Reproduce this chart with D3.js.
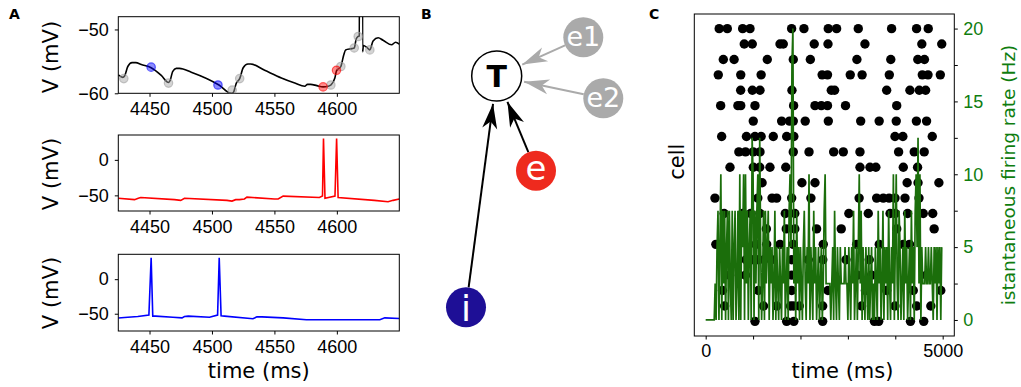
<!DOCTYPE html>
<html>
<head>
<meta charset="utf-8">
<script src="https://cdn.jsdelivr.net/npm/d3@7"></script>
<style>
body { margin: 0; background: #fff; }
svg { font-family: "DejaVu Sans", sans-serif; }
</style>
</head>
<body>
<script>

// ---- panel A : membrane potentials (time in ms, V in mV)
const targetTime = [4425, 4428.6, 4430, 4432.6, 4436, 4439, 4443.4, 4451.3, 4459.4, 4465.2, 4466.5, 4468.5, 4471.4, 4474,
  4483.4, 4505.6, 4515.5, 4517, 4519.5, 4522.2, 4525, 4528.8, 4531, 4542.2, 4555.6, 4566.3, 4574.3, 4576.5, 4579, 4584,
  4589, 4593, 4595.2, 4598.4, 4599.7, 4603.2, 4605.5, 4607, 4612, 4613.9, 4615.5, 4617.1, 4618.0, 4618.4, 4620.3, 4620.6,
  4621.3, 4624, 4626.4, 4629, 4633.1, 4637, 4643.8, 4647, 4650];
const targetV = [-57.1, -57.5, -57.3, -55.8, -55.2, -55.2, -55.5, -56.0, -57.2, -58.3, -58.0, -56.6, -56.1, -56.1,
  -56.7, -58.7, -60.0, -59.9, -58.4, -57.7, -56.0, -55.4, -55.4, -56.4, -57.6, -58.4, -58.9, -58.6, -58.6, -58.8,
  -59.0, -58.9, -58.7, -57.6, -56.5, -55.8, -54.0, -53.2, -53.0, -52.9, -51.5, -51.1, -51.0, 30, 30, -53.5,
  -52.5, -52.8, -53.2, -51.8, -51.3, -51.7, -52.4, -52.0, -52.3];

const grayInTime = [4429.4, 4465.2, 4516.2, 4522.2, 4595.2, 4603.2, 4613.9, 4617.1, 4626.4];
const grayInV = [-57.7, -58.4, -59.5, -57.7, -58.7, -55.8, -52.9, -51.1, -53.2];
const blueInTime = [4451.3, 4504.8];
const blueInV = [-55.9, -58.7];
const redInTime = [4589, 4599.7];
const redInV = [-59.0, -56.4];

const excTime = [4425, 4438, 4441, 4443, 4470, 4475, 4478, 4512, 4516, 4519, 4522, 4526, 4528, 4550, 4553, 4557,
  4586, 4588.5, 4589.3, 4590.5, 4598.5, 4599.8, 4601, 4630, 4641, 4645, 4650];
const excV = [-54, -56, -54, -53, -56, -57, -54, -57, -58, -56, -56, -55, -52.5, -55, -55, -51,
  -53, -51, 30, -54, -51, 30, -53, -57, -59, -57, -55];

const inhTime = [4425, 4430, 4440.6, 4449.5, 4451.3, 4452.6, 4455, 4468.7, 4476, 4478, 4481, 4498, 4504.5, 4505.8,
  4507.3, 4510, 4532.8, 4536, 4540, 4557, 4575.6, 4634.4, 4638.4, 4650];
const inhV = [-56.3, -55.5, -54, -52, 31, -53.5, -53.5, -55, -56, -54, -53.5, -55, -52, 31,
  -53, -53.5, -57.3, -54.5, -54.5, -56, -58.7, -58.7, -56, -57];

const timeTicksA = [4450, 4500, 4550, 4600];

// ---- panel B : network
const nodeNames = ['T', 'e1', 'e2', 'e', 'i'];
const edges = [['e1', 'T'], ['e2', 'T'], ['e', 'T'], ['i', 'T']];

// ---- panel C : raster (spike times per cell, cell 0 at the bottom) and rate
const rasterSpikes = [
  [1040, 1708, 1860, 2468, 3560, 3650, 4320, 4600],
  [400, 1220, 1500, 1790, 1850, 1975, 2468, 3289, 3993, 4450, 4750],
  [355, 1110, 1814, 2580, 3370, 3818, 4380, 4960],
  [505, 840, 1814, 3200, 3500, 4660],
  [850, 1004, 1110, 1230, 1392, 1814, 2165, 2470, 2960, 3451],
  [215, 1060, 1287, 1568, 1848, 2481, 3185, 3662, 4169, 4300],
  [1280, 1700, 1880, 2340, 2860, 4030, 4820],
  [390, 780, 950, 1146, 1680, 1880, 3020, 3430, 3890, 4000, 4260, 4590, 4790],
  [196, 1100, 1400, 1497, 1814, 2220, 3237, 3607, 3747, 3870, 3994, 4205, 4500],
  [1190, 2030, 2306, 4250, 4480, 4920],
  [513, 1005, 1140, 1356, 1690, 3255, 3466, 3590, 4169, 4470],
  [700, 840, 1004, 1146, 1848, 2180, 2700, 2903, 3255, 4070, 4400, 4610],
  [337, 860, 1040, 1170, 1426, 1709, 1860, 3994, 4160, 4780],
  [1004, 1602, 1770, 1848, 2100, 2587, 3270, 3660, 4020, 4445, 4660],
  [316, 680, 740, 1040, 1855, 2306, 2440, 2570, 2950, 4030],
  [738, 985, 1146, 1820, 2650, 2720, 3818, 4309, 4506, 4640],
  [266, 740, 1170, 2457, 2570, 3050, 3300, 3874, 4570, 4690, 4950],
  [372, 600, 1300, 1848, 2208, 3190, 3905, 4475, 4615],
  [814, 983, 1568, 1637, 2290, 2580, 3360, 4560, 4980],
  [285, 456, 780, 935, 1813, 2073, 2586, 2762, 3219, 3922, 4449, 4695]
];

const rateBinMs = 20;
const rateHz = [
  0, 0, 0, 0, 0, 0, 0, 0, 0, 0,
  2.5, 0, 5, 7.5, 0, 5, 10, 0, 7.5, 2.5,
  7.5, 0, 5, 7.5, 0, 7.5, 2.5, 0, 7.5, 0,
  5, 7.5, 0, 2.5, 7.5, 0, 10, 0, 7.5, 5,
  10, 0, 10, 2.5, 7.5, 0, 5, 7.5, 0, 12.5,
  10, 0, 7.5, 2.5, 7.5, 10, 0, 12.5, 5, 0,
  2.5, 7.5, 0, 7.5, 2.5, 5, 7.5, 0, 5, 2.5,
  5, 0, 2.5, 7.5, 0, 5, 2.5, 0, 5, 2.5,
  0, 5, 2.5, 7.5, 0, 2.5, 5, 0, 7.5, 10,
  5, 17.5, 20, 2.5, 5, 0, 7.5, 2.5, 5, 0,
  5, 2.5, 0, 5, 7.5, 2.5, 0, 5, 2.5, 10,
  0, 5, 2.5, 0, 7.5, 2.5, 5, 0, 2.5, 5,
  0, 2.5, 5, 0, 2.5, 7.5, 10, 2.5, 2.5, 2.5,
  2.5, 2.5, 0, 2.5, 5, 0, 7.5, 2.5, 0, 5,
  2.5, 0, 5, 2.5, 2.5, 2.5, 2.5, 5, 2.5, 2.5,
  0, 5, 2.5, 0, 5, 2.5, 7.5, 0, 2.5, 5,
  0, 5, 10, 2.5, 7.5, 0, 5, 2.5, 0, 5,
  2.5, 0, 5, 0, 2.5, 5, 0, 2.5, 0, 5,
  2.5, 0, 7.5, 2.5, 5, 0, 2.5, 7.5, 0, 5,
  2.5, 5, 0, 7.5, 2.5, 0, 5, 2.5, 10, 0,
  5, 10, 2.5, 0, 7.5, 5, 0, 2.5, 5, 0,
  7.5, 2.5, 5, 0, 2.5, 5, 0, 7.5, 2.5, 5,
  0, 7.5, 10, 5, 12.5, 2.5, 10, 0, 5, 2.5,
  2.5, 2.5, 5, 2.5, 2.5, 5, 2.5, 2.5, 5, 2.5,
  0, 5, 2.5, 5, 0, 5, 2.5, 5, 0, 5
];
const timeTicksC = [0, 1000, 2000, 3000, 4000, 5000];
const rateTicks = [0, 2.5, 5, 7.5, 10, 12.5, 15, 17.5, 20];


const width = 1021, height = 387;
const tickFont = 18, labelFont = 21;
const green = '#0f7d0f';

const svg = d3.select('body').append('svg')
  .attr('width', width)
  .attr('height', height);

function finishAxis(g, color) {
  g.select('.domain').remove();
  g.selectAll('.tick line').attr('stroke', '#000').attr('stroke-width', 1);
  g.selectAll('.tick text').style('font-size', tickFont + 'px').attr('fill', color || '#000');
}

function panelLetter(x, y, s) {
  svg.append('text').attr('x', x).attr('y', y)
    .style('font-size', '14px').style('font-weight', 'bold').text(s);
}

// ================= A =================
const left = 118.3, right = 399.3;
const xA = d3.scaleLinear().domain([4425, 4650]).range([left, right]);

const panelsA = [
  {id: 'a1', top: 16.7, bottom: 93.3, dom: [-60, -48], ticks: [-60, -50], t: targetTime, v: targetV, color: '#000', curve: d3.curveMonotoneX, labelY: 57},
  {id: 'a2', top: 135, bottom: 211, dom: [-72, 35], ticks: [-50, 0], t: excTime, v: excV, color: '#ff0000', curve: d3.curveLinear, labelY: 174},
  {id: 'a3', top: 254.3, bottom: 331, dom: [-75, 36], ticks: [-50, 0], t: inhTime, v: inhV, color: '#0000ff', curve: d3.curveLinear, labelY: 293}
];

panelsA.forEach(p => {
  const y = d3.scaleLinear().domain(p.dom).range([p.bottom, p.top]);
  p.y = y;

  svg.append('clipPath').attr('id', 'clip-' + p.id)
    .append('rect').attr('x', left).attr('y', p.top)
    .attr('width', right - left).attr('height', p.bottom - p.top);

  const line = d3.line().curve(p.curve).x(d => xA(d[0])).y(d => y(d[1]));
  svg.append('path')
    .datum(d3.zip(p.t, p.v))
    .attr('clip-path', 'url(#clip-' + p.id + ')')
    .attr('d', line)
    .attr('fill', 'none')
    .attr('stroke', p.color)
    .attr('stroke-width', 1.6);

  const xAxis = svg.append('g')
    .attr('transform', 'translate(0,' + p.bottom + ')')
    .call(d3.axisBottom(xA).tickValues(timeTicksA).tickSize(3.5).tickPadding(5.5).tickFormat(d3.format('d')));
  finishAxis(xAxis);

  const yAxis = svg.append('g')
    .attr('transform', 'translate(' + left + ',0)')
    .call(d3.axisLeft(y).tickValues(p.ticks).tickSize(3.5).tickPadding(6));
  finishAxis(yAxis);

  svg.append('rect')
    .attr('x', left).attr('y', p.top)
    .attr('width', right - left).attr('height', p.bottom - p.top)
    .attr('fill', 'none').attr('stroke', '#000').attr('stroke-width', 1);

  svg.append('text')
    .attr('transform', 'translate(50,' + p.labelY + ') rotate(-90)')
    .attr('text-anchor', 'middle')
    .attr('dy', '0.36em')
    .style('font-size', labelFont + 'px')
    .text('V (mV)');
});

// input markers on the target trace
const yTop = panelsA[0].y;
function markers(times, volts, color) {
  svg.append('g').attr('clip-path', 'url(#clip-a1)')
    .selectAll('circle')
    .data(d3.zip(times, volts))
    .enter()
    .append('circle')
    .attr('cx', d => xA(d[0]))
    .attr('cy', d => yTop(d[1]))
    .attr('r', 4.2)
    .style('fill', color)
    .style('fill-opacity', 0.45)
    .style('stroke', color)
    .style('stroke-opacity', 0.6)
    .style('stroke-width', 1.2);
}
markers(grayInTime, grayInV, '#a0a0a0');
markers(blueInTime, blueInV, '#0000ff');
markers(redInTime, redInV, '#ff0000');

svg.append('text')
  .attr('x', (left + right) / 2).attr('y', 378)
  .attr('text-anchor', 'middle')
  .style('font-size', labelFont + 'px')
  .text('time (ms)');

panelLetter(9, 19, 'A');

// ================= B =================
const layoutB = {
  T:  {x: 496.7, y: 76,    r: 25, fill: '#fff',    stroke: '#000', text: '#000', size: 30, bold: true,  dy: 0.36},
  e1: {x: 583.3, y: 37.3,  r: 20, fill: '#aaaaaa', stroke: 'none', text: '#fff', size: 27, bold: false, dy: 0.34},
  e2: {x: 603.3, y: 98.3,  r: 20, fill: '#aaaaaa', stroke: 'none', text: '#fff', size: 27, bold: false, dy: 0.34},
  e:  {x: 536,   y: 170.7, r: 20, fill: '#ee2a1e', stroke: 'none', text: '#fff', size: 34, bold: false, dy: 0.28},
  i:  {x: 466,   y: 307.3, r: 20, fill: '#1e0f96', stroke: 'none', text: '#fff', size: 36, bold: false, dy: 0.37}
};

const defs = svg.append('defs');
['#000', '#aaaaaa'].forEach((c, k) => {
  defs.append('marker')
    .attr('id', 'head' + k)
    .attr('viewBox', '-28 -9 30 18')
    .attr('refX', 0).attr('refY', 0)
    .attr('markerUnits', 'userSpaceOnUse')
    .attr('markerWidth', 30).attr('markerHeight', 18)
    .attr('orient', 'auto')
    .append('path')
    .attr('d', 'M0,0 L-25,-7.5 L-18,0 L-25,7.5 Z')
    .attr('fill', c);
});

edges.forEach(([s, t]) => {
  const a = layoutB[s], b = layoutB[t];
  const dx = b.x - a.x, dy = b.y - a.y, len = Math.hypot(dx, dy);
  const ux = dx / len, uy = dy / len;
  const gray = s === 'e1' || s === 'e2';
  svg.append('line')
    .attr('x1', a.x + ux * a.r).attr('y1', a.y + uy * a.r)
    .attr('x2', b.x - ux * (b.r + 3)).attr('y2', b.y - uy * (b.r + 3))
    .attr('stroke', gray ? '#aaaaaa' : '#000')
    .attr('stroke-width', 2)
    .attr('marker-end', 'url(#head' + (gray ? 1 : 0) + ')');
});

const nodes = svg.selectAll('.node')
  .data(nodeNames)
  .enter()
  .append('g')
  .attr('class', 'node')
  .attr('transform', d => 'translate(' + layoutB[d].x + ',' + layoutB[d].y + ')');

nodes.append('circle')
  .attr('r', d => layoutB[d].r)
  .attr('fill', d => layoutB[d].fill)
  .attr('stroke', d => layoutB[d].stroke)
  .attr('stroke-width', 1.5);

nodes.append('text')
  .attr('text-anchor', 'middle')
  .attr('dy', d => layoutB[d].dy + 'em')
  .style('font-size', d => layoutB[d].size + 'px')
  .style('font-weight', d => layoutB[d].bold ? 'bold' : 'normal')
  .attr('fill', d => layoutB[d].text)
  .text(d => d);

panelLetter(421, 19, 'B');

// ================= C =================
const cLeft = 694.3, cRight = 954.3, cTop = 14, cBottom = 336;
const xC = d3.scaleLinear().domain([-240, 5245]).range([cLeft, cRight]);
const yCell = d3.scaleLinear().domain([-0.95, 19.95]).range([cBottom, cTop]);
const yRate = d3.scaleLinear().domain([-1.1, 21]).range([cBottom, cTop]);

const spikes = [];
rasterSpikes.forEach((times, cell) => times.forEach(t => spikes.push({cell: cell, t: t})));

svg.append('g').selectAll('circle')
  .data(spikes)
  .enter()
  .append('circle')
  .attr('cx', d => xC(d.t))
  .attr('cy', d => yCell(d.cell))
  .attr('r', 4.7)
  .attr('fill', '#000');

const rateLine = d3.line()
  .x((d, i) => xC(i * rateBinMs))
  .y(d => yRate(d));

svg.append('path')
  .datum(rateHz)
  .attr('d', rateLine)
  .attr('fill', 'none')
  .attr('stroke', '#1b6e0b')
  .attr('stroke-width', 1.7);

const xAxisC = svg.append('g')
  .attr('transform', 'translate(0,' + cBottom + ')')
  .call(d3.axisBottom(xC).tickValues(timeTicksC).tickSize(3.5).tickPadding(5)
    .tickFormat(d => (d === 0 || d === 5000) ? d : ''));
finishAxis(xAxisC);

const yAxisC = svg.append('g')
  .attr('transform', 'translate(' + cRight + ',0)')
  .call(d3.axisRight(yRate).tickValues(rateTicks).tickSize(3.5).tickPadding(5.5)
    .tickFormat(d => d % 5 === 0 ? d : ''));
finishAxis(yAxisC, green);

svg.append('rect')
  .attr('x', cLeft).attr('y', cTop)
  .attr('width', cRight - cLeft).attr('height', cBottom - cTop)
  .attr('fill', 'none').attr('stroke', '#000').attr('stroke-width', 1);

svg.append('text')
  .attr('transform', 'translate(676.5,161.7) rotate(-90)')
  .attr('text-anchor', 'middle')
  .attr('dy', '0.36em')
  .style('font-size', labelFont + 'px')
  .text('cell');

svg.append('text')
  .attr('transform', 'translate(1008,175) rotate(-90)')
  .attr('text-anchor', 'middle')
  .attr('dy', '0.36em')
  .style('font-size', '18.5px')
  .attr('fill', green)
  .text('istantaneous firing rate (Hz)');

svg.append('text')
  .attr('x', 842.5).attr('y', 378)
  .attr('text-anchor', 'middle')
  .style('font-size', labelFont + 'px')
  .text('time (ms)');

panelLetter(649, 19, 'C');

</script>
</body>
</html>
